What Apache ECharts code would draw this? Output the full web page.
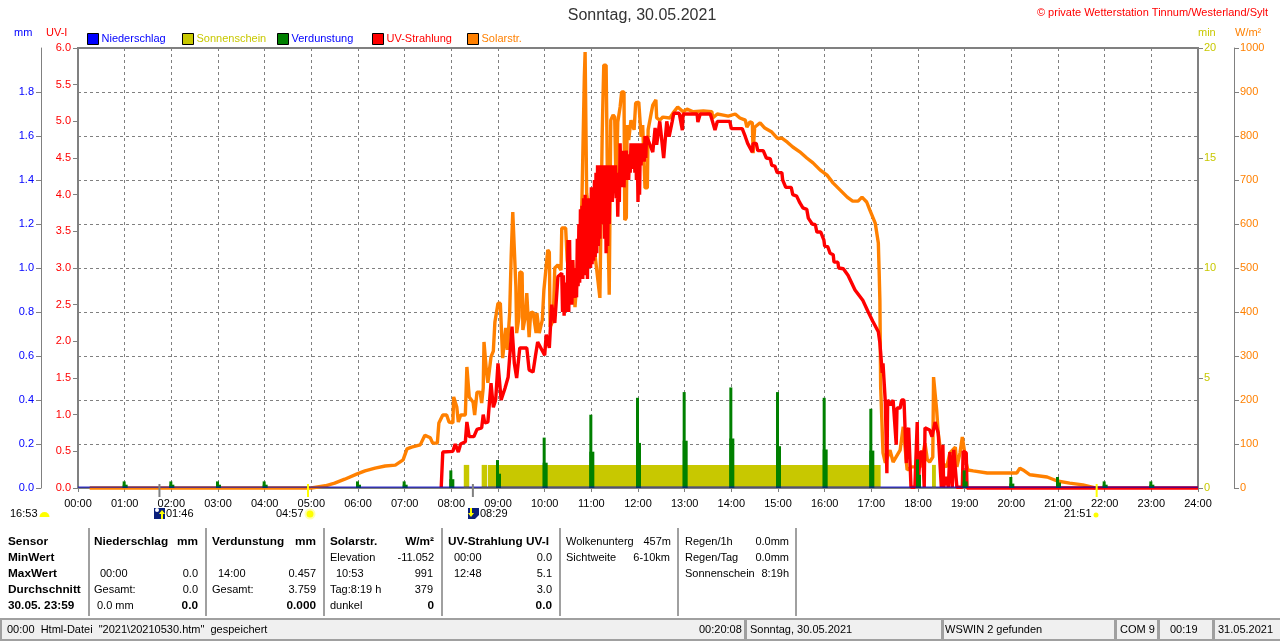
<!DOCTYPE html>
<html><head><meta charset="utf-8">
<style>html,body{margin:0;padding:0;background:#fff}#c{width:1280px;height:641px}</style>
<script src="https://cdn.jsdelivr.net/npm/echarts@6/dist/echarts.min.js"></script>
</head><body><div id="c"></div>
<script>
const titleText='Sonntag, 30.05.2021';
const creditText='© private Wetterstation Tinnum/Westerland/Sylt';
const legendNames=['Niederschlag','Sonnenschein','Verdunstung','UV-Strahlung','Solarstr.'];

const rainMin=[0,1440];
const rainMm=[0.004,0.004];

const sunStart=[496,519,527,1098];
const sunEnd=[503,526,1032,1103];
const sunValue=[1.05,1.05,1.05,1.05];

const evapMin=[60,120,180,240,360,420,480,540,600,660,720,780,840,900,960,1020,1080,1140,1200,1260,1320,1380];
const evapTall=[.03,.03,.03,.03,.03,.03,.08,.127,.229,.333,.41,.436,.457,.436,.41,.36,.13,.08,.05,.05,.03,.03];
const evapLow=[.015,.015,.015,.015,.015,.015,.04,.065,.115,.165,.205,.215,.225,.19,.175,.17,.06,.03,.02,.025,.015,.015];

const solarMin=[15,300,318,330,343,359,369,382,395,408,418,423,429,440,446,453,456,462,464,469,474,477,482,483,487,489,492,498,500,501,503,508,510,513,517,519,521,522,525,527,531,534,536,540,543,545,546,550,552,555,557,559,561,563,564,567,568,571,572,575,577,579,580,582,585,589,590,593,597,599,600,604,606,607,611,613,617,621,622,627,629,633,636,639,642,645,648,651,652,654,656,661,667,671,674,675,676,679,680,681,683,685,688,690,692,694,697,699,702,703,705,706,708,711,715,717,721,724,726,729,732,733,737,739,743,744,748,752,761,765,771,778,783,791,804,815,816,822,828,836,845,851,858,860,864,867,868,870,877,883,892,899,905,912,919,928,937,945,954,963,971,980,989,996,1003,1008,1014,1018,1025,1029,1030,1031,1032,1035,1038,1044,1048,1057,1061,1066,1072,1083,1089,1092,1095,1099,1100,1102,1104,1106,1111,1117,1121,1128,1130,1134,1137,1139,1142,1144,1151,1169,1207,1211,1215,1224,1246,1259,1275,1292,1308];
const solarWm2=[0,0,5,11,20,32,39,45,50,52,64,89,93,98,120,114,102,102,148,166,166,150,148,207,184,150,166,166,275,275,207,195,166,218,218,193,227,332,268,239,298,311,377,420,420,336,295,364,314,398,530,627,627,457,352,389,491,489,359,389,443,443,343,398,400,352,398,352,382,450,468,541,536,366,382,500,507,495,591,591,518,466,518,411,484,480,661,934,991,670,639,586,495,432,807,889,961,961,814,639,439,836,848,843,670,832,866,900,900,609,614,825,791,836,814,875,877,798,825,682,682,814,852,870,882,841,836,843,841,852,866,855,861,855,857,855,841,850,848,845,850,841,836,820,832,830,761,820,830,818,809,795,795,786,775,764,750,739,723,711,693,677,661,652,652,661,650,632,602,557,495,427,230,80,57,86,59,86,139,41,48,48,102,64,59,70,252,252,177,125,57,48,80,93,48,80,116,116,57,41,39,34,34,45,41,30,25,16,11,7,0];

const uvEarlyMin=[467,469,482,485,489,492,498,500,503,509,513,519,521,523,527,531,534,537,540,544,549,553,558,561,564,568,577,580,585,588,591,600,602,606,609,613,617];
const uvEarlyIndex=[.01,.49,.5,.6,.49,.6,.63,.9,.7,.7,.8,.82,1,.89,.9,1.43,1.1,1.2,1.7,1.2,1.36,1.51,2.2,1.7,1.5,1.91,1.91,1.61,1.58,1.79,1.99,1.81,2.09,1.91,2.5,2.25,2.88];
/* one reading per minute from 10:22 to 12:11, where the trace fills solid */
const uvNoonStart=622;
const uvNoonIndex=[2.93,2.4,2.9,2.35,2.6,2.4,2.8,2.5,3.38,2.4,3.38,2.55,2.9,2.5,3.11,2.6,3,2.59,3,2.6,3.4,2.75,3.6,2.8,3.8,2.9,3.85,2.85,3.95,2.95,4,2.9,3.95,2.85,3.95,3,3.95,3,4.1,3.05,4.1,3.1,4.2,3.15,4.3,3.2,4.4,3.3,4.4,3.4,4.4,3.8,4.4,3.6,4.4,3.4,4.4,3.2,4.4,3.3,4.2,3.6,4.4,4,4.4,3.9,4.2,4.4,4.25,4.4,3.95,4.3,3.7,4.3,3.9,4.7,4.2,4.6,4.1,4.6,4.1,4.5,4.2,4.6,4.2,4.55,4.2,4.5,4.3,4.7,4.4,4.7,4.35,4.7,4.3,4.7,4.2,4.7,3.9,4.65,4,4.7,4.4,4.7,4.5,4.7,4.45,4.8,4.5,4.8];
const uvLateMin=[732,739,742,744,748,753,757,760,764,766,773,774,777,778,796,797,800,813,819,822,838,840,854,858,861,867,868,872,874,881,885,890,892,896,899,905,906,910,917,919,924,928,932,937,939,944,948,950,955,959,960,964,967,971,972,977,978,984,990,999,1009,1016,1022,1029,1031,1034,1035,1038,1040,1041,1045,1048,1052,1053,1057,1059,1062,1065,1066,1068,1071,1076,1079,1080,1083,1086,1088,1089,1095,1098,1102,1106,1110,1112,1113,1116,1119,1121,1124,1126,1130,1137,1138,1142,1143,1440];
const uvLateIndex=[4.81,4.58,4.91,4.68,5,4.5,5,4.79,5,5.11,5.11,5.1,4.88,5.1,5.1,4.99,5.1,5.1,4.88,5,5,4.9,4.9,4.79,4.7,4.58,4.7,4.7,4.6,4.6,4.5,4.49,4.4,4.39,4.3,4.3,4.2,4.1,4.1,4,3.98,3.89,3.82,3.8,3.68,3.6,3.59,3.49,3.49,3.38,3.3,3.29,3.2,3.18,3.08,3.08,3,2.99,2.9,2.7,2.56,2.4,2.27,2.13,1.98,1.57,1.7,1.17,.2,1.2,1.13,1.2,.59,1.09,1.09,1.2,1.2,.34,.75,.82,.01,.01,.9,.01,.49,.49,.01,.82,.79,.7,.9,.75,.01,.59,.01,.15,.01,.49,.01,.52,.01,.01,.5,.48,0,0];

const eventMin=[106,297,509,1311];
const eventColor=['#808080','#FFFF00','#808080','#FFFF00'];
const mmTicks=[0,.2,.4,.6,.8,1,1.2,1.4,1.6,1.8];

const colSensor=['Sensor','MinWert','MaxWert','Durchschnitt','30.05. 23:59'];
const FONT='"Liberation Sans",Arial,sans-serif';
const GRAY='#808080', ORANGE='#FF8000', OLIVE='#C8C800';
const zip=(a,b)=>a.map((v,i)=>[v,b[i]]);
const rowY=[542,558,574,590,606];
const uvData=zip(uvEarlyMin,uvEarlyIndex)
  .concat(uvNoonIndex.map((v,i)=>[uvNoonStart+i,v]))
  .concat(zip(uvLateMin,uvLateIndex));

const g=[];
function T(x,y,text,o={}){g.push({type:'text',silent:true,z:10,style:{x,y,text,fill:o.c||'#000',
  font:(o.b?'bold ':'')+(o.s||(o.b?11.8:11))+'px '+FONT,textAlign:o.r?'right':(o.m?'center':'left'),textVerticalAlign:'middle'}});}
function R(x,y,w,h,f,z){g.push({type:'rect',silent:true,z:z||5,shape:{x,y,width:w,height:h},style:{fill:f}});}
function P(pts,f,z){g.push({type:'polygon',silent:true,z:z||10,shape:{points:pts},style:{fill:f}});}

/* header */
T(642,16,titleText,{m:1,s:16,c:'#333'});
T(1268,13,creditText,{r:1,c:'#FF0000'});
T(14,33,'mm',{c:'#0000FF'});T(46,33,'UV-I',{c:'#FF0000'});
T(1198,33,'min',{c:OLIVE});T(1235,33,'W/m²',{c:ORANGE});

/* times below axis */
T(10,514,'16:53');T(166,514,'01:46');T(276,514,'04:57');T(480,514,'08:29');T(1064,514,'21:51');
g.push({type:'sector',silent:true,z:9,shape:{cx:44.5,cy:517,r:5,r0:0,startAngle:Math.PI,endAngle:Math.PI*2},style:{fill:'#FFFF00'}});
R(154,508,11,11,'#0A1F7A',9);
g.push({type:'circle',silent:true,z:10,shape:{cx:157,cy:510,r:2},style:{fill:'#fff'}});
P([[162,510],[159,514],[161,514],[161,519],[163,519],[163,514],[165,514]],'#FFFF00');
R(468,508,11,11,'#0A1F7A',9);
P([[471,517],[468,513],[470,513],[470,508],[472,508],[472,513],[474,513]],'#FFFF00');
P([[475,519],[479,515],[479,519]],'#fff');
g.push({type:'circle',silent:true,z:9,shape:{cx:310,cy:514,r:5.5},style:{fill:'#FFFFB0'}});
g.push({type:'circle',silent:true,z:10,shape:{cx:310,cy:514,r:3.5},style:{fill:'#FFFF00'}});
g.push({type:'circle',silent:true,z:10,shape:{cx:1096,cy:515,r:2.5},style:{fill:'#FFFF00'}});

/* panel separators */
[88,205,323,441,559,677,795].forEach(x=>R(x,528,2,88,'#A0A0A0'));
/* col 1 */
colSensor.forEach((t,i)=>T(8,rowY[i],t,{b:1}));
/* Niederschlag */
T(94,rowY[0],'Niederschlag',{b:1});T(198,rowY[0],'mm',{b:1,r:1});
T(100,rowY[2],'00:00');T(198,rowY[2],'0.0',{r:1});
T(94,rowY[3],'Gesamt:');T(198,rowY[3],'0.0',{r:1});
T(97,rowY[4],'0.0 mm');T(198,rowY[4],'0.0',{b:1,r:1});
/* Verdunstung */
T(212,rowY[0],'Verdunstung',{b:1});T(316,rowY[0],'mm',{b:1,r:1});
T(218,rowY[2],'14:00');T(316,rowY[2],'0.457',{r:1});
T(212,rowY[3],'Gesamt:');T(316,rowY[3],'3.759',{r:1});
T(316,rowY[4],'0.000',{b:1,r:1});
/* Solar */
T(330,rowY[0],'Solarstr.',{b:1});T(434,rowY[0],'W/m²',{b:1,r:1});
T(330,rowY[1],'Elevation');T(434,rowY[1],'-11.052',{r:1});
T(336,rowY[2],'10:53');T(433,rowY[2],'991',{r:1});
T(330,rowY[3],'Tag:8:19 h');T(433,rowY[3],'379',{r:1});
T(330,rowY[4],'dunkel');T(434,rowY[4],'0',{b:1,r:1});
/* UV */
T(448,rowY[0],'UV-Strahlung UV-I',{b:1});
T(454,rowY[1],'00:00');T(552,rowY[1],'0.0',{r:1});
T(454,rowY[2],'12:48');T(552,rowY[2],'5.1',{r:1});
T(552,rowY[3],'3.0',{r:1});T(552,rowY[4],'0.0',{b:1,r:1});
/* Clouds */
T(566,rowY[0],'Wolkenunterg');T(671,rowY[0],'457m',{r:1});
T(566,rowY[1],'Sichtweite');T(670,rowY[1],'6-10km',{r:1});
/* Rain */
T(685,rowY[0],'Regen/1h');T(789,rowY[0],'0.0mm',{r:1});
T(685,rowY[1],'Regen/Tag');T(789,rowY[1],'0.0mm',{r:1});
T(685,rowY[2],'Sonnenschein');T(789,rowY[2],'8:19h',{r:1});

/* status bar */
R(0,618,1280,23,'#F0F0F0',1);
R(0,618,1280,2,'#A0A0A0',2);R(0,639,1280,2,'#A0A0A0',2);R(0,618,2,23,'#A0A0A0',2);
[744,941,1114,1157,1212].forEach(x=>R(x,618,3,23,'#A0A0A0',2));
T(7,630,'00:00  Html-Datei  "2021\\20210530.htm"  gespeichert');
T(699,630,'00:20:08');T(750,630,'Sonntag, 30.05.2021');T(945,630,'WSWIN 2 gefunden');
T(1120,630,'COM 9');T(1170,630,'00:19');T(1218,630,'31.05.2021');

const legendColors=['#0000FF',OLIVE,'#008000','#FF0000',ORANGE];
const legendText=['#0000FF',OLIVE,'#0000FF','#FF0000',ORANGE];
const legendLeft=[87,182,277,372,467];

const chart=echarts.init(document.getElementById('c'),null,{renderer:'canvas'});
chart.setOption({
  animation:false,backgroundColor:'#fff',textStyle:{fontFamily:FONT,fontSize:11},
  grid:{left:78,right:82,top:48,bottom:153,show:true,borderColor:GRAY,borderWidth:2,backgroundColor:'#fff'},
  legend:legendNames.map((n,i)=>({show:true,left:legendLeft[i],top:33,padding:0,itemWidth:11,itemHeight:11,itemGap:3,selectedMode:false,
    data:[{name:n,icon:'rect',itemStyle:{color:legendColors[i],borderColor:'#000',borderWidth:1}}],
    textStyle:{color:legendText[i],fontSize:11,fontFamily:FONT,padding:[0,0,0,-2]}})),
  xAxis:{type:'value',min:0,max:1440,interval:60,
    axisLine:{lineStyle:{color:GRAY,width:1}},axisTick:{length:4,lineStyle:{color:GRAY}},
    axisLabel:{color:'#000',fontSize:11,margin:10,showMinLabel:true,showMaxLabel:true,hideOverlap:false,
      formatter:v=>String(v/60).padStart(2,'0')+':00'},
    splitLine:{show:true,lineStyle:{color:GRAY,type:[3,3],width:1}}},
  yAxis:[
    {type:'value',min:0,max:6,interval:.5,position:'left',splitLine:{show:false},
      axisLine:{show:true,lineStyle:{color:GRAY}},axisTick:{show:true,length:5,lineStyle:{color:GRAY}},
      axisLabel:{color:'#FF0000',fontSize:11,margin:7,formatter:v=>v.toFixed(1)}},
    {type:'value',min:0,max:2,interval:.2,position:'left',offset:37,
      splitLine:{show:true,lineStyle:{color:GRAY,type:[3,3],width:1}},
      axisLine:{show:true,lineStyle:{color:GRAY}},axisTick:{show:true,length:5,customValues:mmTicks,lineStyle:{color:GRAY}},
      axisLabel:{color:'#0000FF',fontSize:11,margin:7,showMaxLabel:true,formatter:v=>v>=1.99?'':v.toFixed(1)}},
    {type:'value',min:0,max:20,interval:5,position:'right',splitLine:{show:false},
      axisLine:{show:true,lineStyle:{color:GRAY}},axisTick:{show:true,length:5,lineStyle:{color:GRAY}},
      axisLabel:{color:OLIVE,fontSize:11,margin:6}},
    {type:'value',min:0,max:1000,interval:100,position:'right',offset:36,splitLine:{show:false},
      axisLine:{show:true,lineStyle:{color:GRAY}},axisTick:{show:true,length:5,lineStyle:{color:GRAY}},
      axisLabel:{color:ORANGE,fontSize:11,margin:6,formatter:v=>String(v)}}
  ],
  graphic:g,
  series:[
    {name:'Sonnenschein',type:'custom',yAxisIndex:2,z:2,itemStyle:{color:OLIVE},
      data:sunStart.map((s,i)=>[s,sunEnd[i],sunValue[i]]),encode:{x:[0,1],y:2},
      renderItem:(p,api)=>{const a=api.coord([api.value(0),api.value(2)]),b=api.coord([api.value(1),0]);
        return {type:'rect',shape:{x:a[0],y:a[1],width:b[0]-a[0],height:b[1]-a[1]},style:{fill:OLIVE}};}},
    {name:'Solarstr.',type:'line',yAxisIndex:3,z:3,clip:false,showSymbol:false,symbol:'none',
      data:zip(solarMin,solarWm2),lineStyle:{color:ORANGE,width:3.4,join:'bevel'},itemStyle:{color:ORANGE}},
    {name:'UV-Strahlung',type:'line',yAxisIndex:0,z:4,clip:false,showSymbol:false,symbol:'none',
      data:uvData,lineStyle:{color:'#FF0000',width:3.4,join:'bevel'},itemStyle:{color:'#FF0000'}},
    {name:'Verdunstung',type:'custom',yAxisIndex:1,z:5,itemStyle:{color:'#008000'},
      data:evapMin.map((m,i)=>[m,evapTall[i],evapLow[i]]),encode:{x:0,y:1},
      renderItem:(p,api)=>{const a=api.coord([api.value(0),api.value(1)]),l=api.coord([api.value(0),api.value(2)]),o=api.coord([api.value(0),0]);
        return {type:'group',children:[
          {type:'rect',shape:{x:a[0]-2,y:a[1],width:3,height:o[1]-a[1]},style:{fill:'#008000'}},
          {type:'rect',shape:{x:l[0]-2,y:l[1],width:5,height:o[1]-l[1]},style:{fill:'#008000'}}]};}},
    {name:'Niederschlag',type:'line',yAxisIndex:1,z:6,clip:false,showSymbol:false,symbol:'none',
      data:zip(rainMin,rainMm),lineStyle:{color:'#0000C0',width:1},itemStyle:{color:'#0000FF'}},
    {name:'Ereignisse',type:'custom',yAxisIndex:0,z:7,
      data:eventMin.map(m=>[m,0]),encode:{x:0,y:1},
      renderItem:(p,api)=>{const c=api.coord([api.value(0),0]);
        return {type:'rect',shape:{x:c[0]-2,y:c[1]-4,width:2,height:13},style:{fill:eventColor[p.dataIndex]}};}}
  ]
});
</script></body></html>
